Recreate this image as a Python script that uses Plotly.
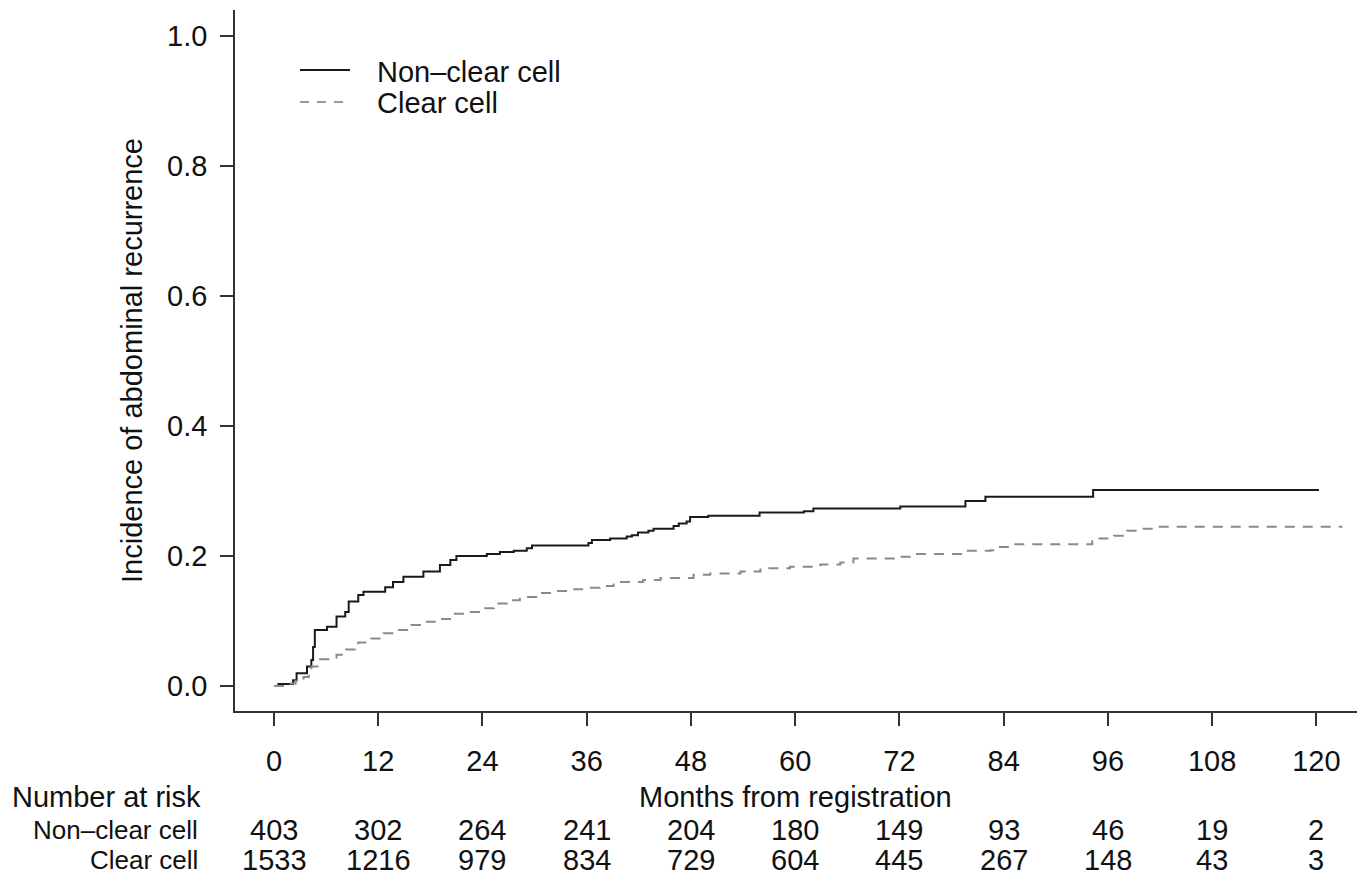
import plotly.graph_objects as go

# ---- data ----
nonclear_months = [0, 0.5, 2.2, 2.6, 3.8, 4.3, 4.5, 4.7, 6.1, 7.2, 8.2, 8.6, 9.7, 10.3, 12.8, 13.7,
                   14.9, 17.2, 19.1, 20.3, 21.0, 24.5, 26.0, 27.6, 29.1, 29.7, 36.2, 36.6, 38.7,
                   40.6, 41.2, 41.9, 43.1, 43.7, 46.0, 46.6, 47.5, 47.9, 50.0, 55.9, 61.0, 62.1,
                   72.1, 79.6, 81.9, 94.3, 120.3]
nonclear_inc = [0.0, 0.003, 0.009, 0.0195, 0.03, 0.04, 0.06, 0.086, 0.091, 0.107, 0.114, 0.13, 0.14,
                0.145, 0.152, 0.16, 0.168, 0.176, 0.186, 0.194, 0.200, 0.203, 0.206, 0.208, 0.212,
                0.216, 0.220, 0.2246, 0.227, 0.230, 0.232, 0.236, 0.239, 0.242, 0.246, 0.250,
                0.253, 0.260, 0.262, 0.267, 0.269, 0.273, 0.276, 0.2846, 0.2913, 0.3015, 0.3015]

clear_months = [0, 1.5, 2.5, 3.4, 4.0, 4.3, 5.3, 7.2, 8.3, 9.7, 11.2, 12.6, 14.1, 15.8, 17.6, 19.1,
                20.7, 22.2, 23.9, 25.3, 26.8, 28.3, 30.2, 32.2, 34.1, 35.6, 37.5, 39.1, 42.5, 44.5,
                48.3, 50.2, 53.7, 56.0, 59.4, 62.9, 65.2, 66.7, 72.1, 73.8, 79.6, 82.5, 83.4, 84.8,
                94.2, 96.7, 98.0, 98.2, 100.1, 101.3, 123.0]
clear_inc = [0.0, 0.004, 0.008, 0.014, 0.022, 0.03, 0.041, 0.048, 0.056, 0.067, 0.073, 0.081, 0.086,
             0.094, 0.099, 0.103, 0.111, 0.114, 0.1195, 0.127, 0.132, 0.137, 0.143, 0.146, 0.149,
             0.151, 0.154, 0.160, 0.163, 0.166, 0.171, 0.173, 0.176, 0.181, 0.1835, 0.187, 0.190,
             0.196, 0.199, 0.203, 0.208, 0.209, 0.214, 0.218, 0.227, 0.231, 0.2346, 0.239, 0.242,
             0.245, 0.245]

tick_months = [0, 12, 24, 36, 48, 60, 72, 84, 96, 108, 120]
risk_nonclear = [403, 302, 264, 241, 204, 180, 149, 93, 46, 19, 2]
risk_clear = [1533, 1216, 979, 834, 729, 604, 445, 267, 148, 43, 3]
y_ticks = [0.0, 0.2, 0.4, 0.6, 0.8, 1.0]

group_names = ["Non\u2013clear cell", "Clear cell"]

# ---- figure ----
FONT = "Liberation Sans, Arial, sans-serif"
TXT = "#111111"
FS = 29
# the page body has an 8px margin, so the figure is made 8px smaller each way
W, H = 1357, 872
ML, MR, MT, MB = 227, 0, 2, 169
plot_w = W - ML - MR
plot_h = H - MT - MB
OFF = 8  # page offset


def paper_y(pix):
    return (H - MB - (pix - OFF)) / plot_h


def paper_x(pix):
    return ((pix - OFF) - ML) / plot_w


fig = go.Figure()
fig.add_trace(go.Scatter(x=nonclear_months, y=nonclear_inc, mode="lines", line_shape="hv",
                         name=group_names[0],
                         line=dict(color="#1a1a1a", width=2)))
fig.add_trace(go.Scatter(x=clear_months, y=clear_inc, mode="lines", line_shape="hv",
                         name=group_names[1],
                         line=dict(color="#8a8a8a", width=2, dash="10px,8px")))

annotations = []
for m, a, b in zip(tick_months, risk_nonclear, risk_clear):
    annotations.append(dict(x=m, y=paper_y(830), xref="x", yref="paper", text=str(a),
                            showarrow=False, xanchor="center", yanchor="middle"))
    annotations.append(dict(x=m, y=paper_y(860), xref="x", yref="paper", text=str(b),
                            showarrow=False, xanchor="center", yanchor="middle"))
annotations.append(dict(x=paper_x(200), y=paper_y(830), xref="paper", yref="paper",
                        text=group_names[0], showarrow=False, xanchor="right", yanchor="middle",
                        font=dict(size=26)))
annotations.append(dict(x=paper_x(200), y=paper_y(860), xref="paper", yref="paper",
                        text=group_names[1], showarrow=False, xanchor="right", yanchor="middle",
                        font=dict(size=26)))
annotations.append(dict(x=paper_x(10), y=paper_y(797), xref="paper", yref="paper",
                        text="Number at risk", showarrow=False, xanchor="left", yanchor="middle"))
annotations.append(dict(x=60, y=paper_y(797), xref="x", yref="paper",
                        text="Months from registration", showarrow=False,
                        xanchor="center", yanchor="middle"))
# legend (drawn as key lines + labels)
annotations.append(dict(x=paper_x(375), y=paper_y(72), xref="paper", yref="paper",
                        text=group_names[0], showarrow=False, xanchor="left", yanchor="middle"))
annotations.append(dict(x=paper_x(375), y=paper_y(103), xref="paper", yref="paper",
                        text=group_names[1], showarrow=False, xanchor="left", yanchor="middle"))
shapes = [
    dict(type="line", xref="paper", yref="paper", x0=paper_x(300), x1=paper_x(350),
         y0=paper_y(70), y1=paper_y(70), line=dict(color="#1a1a1a", width=2)),
    dict(type="line", xref="paper", yref="paper", x0=paper_x(300), x1=paper_x(350),
         y0=paper_y(102), y1=paper_y(102), line=dict(color="#9a9a9a", width=2, dash="9px,8px")),
]

fig.update_layout(
    width=W, height=H,
    margin=dict(l=ML, r=MR, t=MT, b=MB, autoexpand=False),
    paper_bgcolor="white", plot_bgcolor="white",
    font=dict(family=FONT, size=FS, color=TXT),
    showlegend=False,
    annotations=annotations,
    shapes=shapes,
    xaxis=dict(range=[-4.49, 125.6], tickvals=tick_months, ticks="outside", ticklen=13,
               tickwidth=1.5, tickcolor="#333", showline=True, linecolor="#333", linewidth=1.5,
               showgrid=False, zeroline=False, ticklabelstandoff=10,
               tickfont=dict(size=FS, color=TXT)),
    yaxis=dict(range=[-0.0385, 1.04], tickvals=y_ticks, tickformat=".1f", ticks="outside",
               ticklen=13, tickwidth=1.5, tickcolor="#333", showline=True, linecolor="#333",
               linewidth=1.5, showgrid=False, zeroline=False, ticklabelstandoff=7,
               tickfont=dict(size=FS, color=TXT),
               title=dict(text="Incidence of abdominal recurrence", standoff=16,
                          font=dict(size=FS, color=TXT))),
)

fig.write_html("out.html")
